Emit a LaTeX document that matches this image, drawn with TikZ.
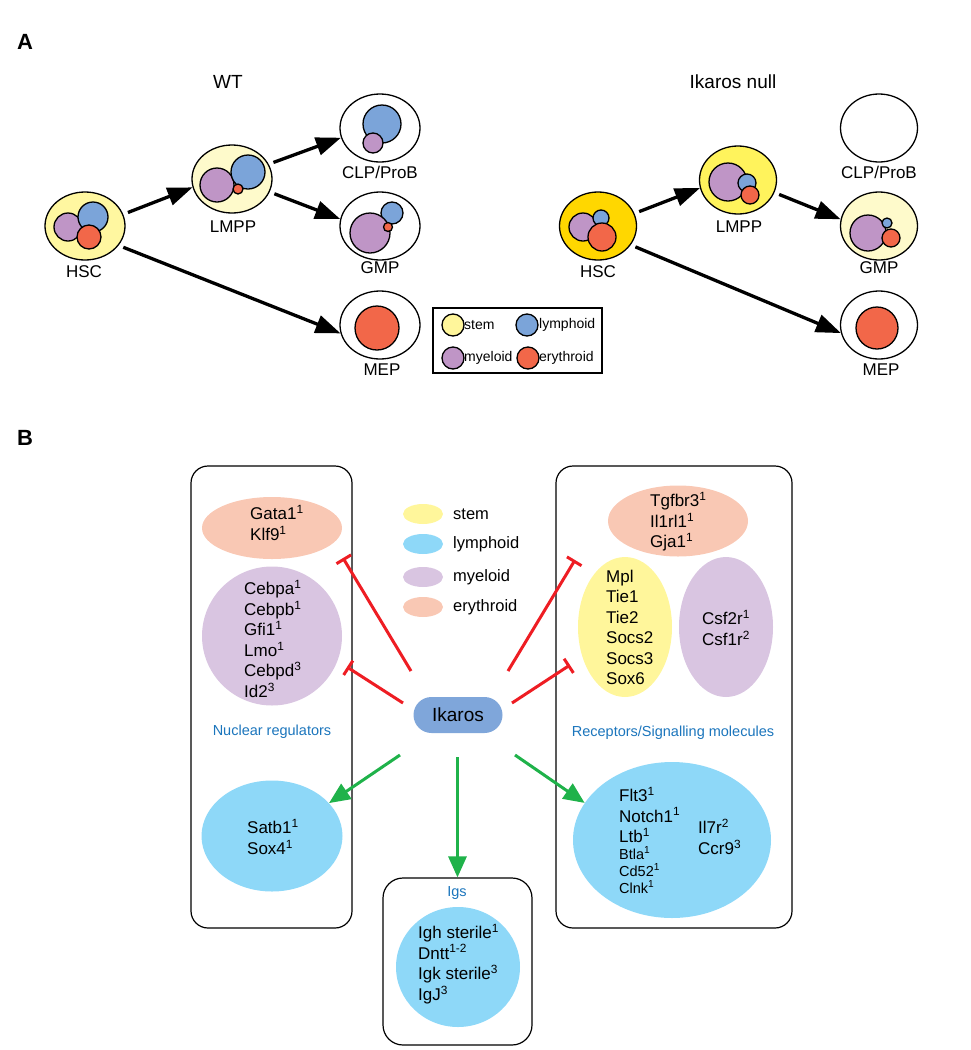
\documentclass[tikz,border=0pt]{standalone}
\usepackage{fontspec}
\setmainfont{Liberation Sans}
\usetikzlibrary{shapes.geometric,arrows.meta,calc}
\definecolor{cyel}{HTML}{FFF7A0}
\definecolor{cpale}{HTML}{FEFACB}
\definecolor{cgold}{HTML}{FFD700}
\definecolor{cyeltwo}{HTML}{FFF35C}
\definecolor{cblue}{HTML}{7BA4D9}
\definecolor{cpurp}{HTML}{BF95C6}
\definecolor{cred}{HTML}{F26749}
\definecolor{lstem}{HTML}{FFF69B}
\definecolor{llym}{HTML}{8ED8F8}
\definecolor{lmye}{HTML}{D9C5E1}
\definecolor{lery}{HTML}{F9C8B4}
\definecolor{ikfill}{HTML}{7FA6DA}
\definecolor{tred}{HTML}{EE1D23}
\definecolor{tgreen}{HTML}{1FB24A}
\definecolor{tblue}{HTML}{1B75BC}
\newcommand\gsup[1]{\textsuperscript{#1}}
\begin{document}
\begin{tikzpicture}[x=1pt,y=-1pt,
  cell/.style={ellipse,draw,line width=1.3pt,minimum width=80pt,minimum height=68pt,inner sep=0pt},
  sub/.style={draw,line width=1.3pt},
  lab/.style={font=\fontsize{17}{20}\selectfont,inner sep=0pt},
  ttl/.style={font=\fontsize{19}{22}\selectfont,inner sep=0pt},
  panel/.style={font=\fontsize{22}{24}\selectfont\bfseries,inner sep=0pt},
  flow/.style={line width=3.3pt,-{Triangle[length=25pt,width=18pt]},shorten <=5pt},
  legA/.style={font=\fontsize{14}{16}\selectfont,inner sep=0pt,anchor=west},
  blob/.style={ellipse,inner sep=0pt},
  genes/.style={font=\fontsize{17}{20.5}\selectfont,align=left,inner sep=0pt,anchor=west},
  smallgenes/.style={font=\fontsize{14.5}{17}\selectfont,align=left,inner sep=0pt,anchor=west},
  grp/.style={draw,line width=1.2pt,rounded corners=17pt},
  cat/.style={font=\fontsize{14.5}{16}\selectfont,text=tblue,inner sep=0pt},
  legB/.style={font=\fontsize{16.5}{18}\selectfont,inner sep=0pt,anchor=west},
  inhib/.style={draw=tred,line width=3pt,-{Bar[width=17pt,line width=3pt]}},
  act/.style={draw=tgreen,line width=3pt,-{Triangle[length=21pt,width=18pt]},color=tgreen}
]
\useasboundingbox (0,0) rectangle (970,1050);

% ---------------- Panel A ----------------
\node[panel] (pA) at (25,42) {A};
\node[ttl] (wt) at (228,82) {WT};
\node[ttl] (null) at (733,82) {Ikaros null};

% WT cells
\node[cell,fill=cyel] (hsc) at (85,226) {};
\draw[sub,fill=cpurp] (68,227) circle[radius=14pt];
\draw[sub,fill=cblue] (93,217) circle[radius=15pt];
\draw[sub,fill=cred] (89,237) circle[radius=12pt];
\node[lab] (hscl) at (84,272) {HSC};

\node[cell,fill=cpale] (lmpp) at (232,179) {};
\draw[sub,fill=cpurp] (217,185) circle[radius=17pt];
\draw[sub,fill=cblue] (248,172) circle[radius=17pt];
\draw[sub,fill=cred] (238,189) circle[radius=5pt];
\node[lab] (lmppl) at (233,227) {LMPP};

\node[cell,fill=white] (clp) at (380,128) {};
\draw[sub,fill=cblue] (382,124) circle[radius=19pt];
\draw[sub,fill=cpurp] (373,143) circle[radius=10pt];
\node[lab] (clpl) at (380,172) {CLP/ProB};

\node[cell,fill=white] (gmp) at (380,226) {};
\draw[sub,fill=cblue] (392,213) circle[radius=11pt];
\draw[sub,fill=cpurp] (370,233) circle[radius=20pt];
\draw[sub,fill=cred] (388,227) circle[radius=4.5pt];
\node[lab] (gmpl) at (380,268) {GMP};

\node[cell,fill=white] (mep) at (380,325) {};
\draw[sub,fill=cred] (377,328) circle[radius=22pt];
\node[lab] (mepl) at (382,370) {MEP};

\draw[flow] (hsc.17) -- (lmpp.192);
\draw[flow] (lmpp.22) -- (clp.194);
\draw[flow] (lmpp.-19) -- (gmp.170);
\draw[flow] (hsc.-30) -- (mep.192);

% legend A
\node[draw,line width=1.5pt,minimum width=169pt,minimum height=65pt,inner sep=0pt] (legbox) at (517.5,340.5) {};
\draw[sub,fill=lstem] (453,325) circle[radius=11pt];
\node[legA] (lst) at (464,325) {stem};
\draw[sub,fill=cblue] (527,325) circle[radius=11pt];
\node[legA] (lly) at (539,325) {lymphoid};
\draw[sub,fill=cpurp] (453,358) circle[radius=11pt];
\node[legA] (lmy) at (464,358) {myeloid};
\draw[sub,fill=cred] (528,358) circle[radius=11pt];
\node[legA] (ler) at (539,358) {erythroid};

% Ikaros null cells
\node[cell,fill=cgold,minimum width=77pt] (nhsc) at (598,226) {};
\draw[sub,fill=cpurp] (583,227) circle[radius=14pt];
\draw[sub,fill=cblue] (601,218) circle[radius=8pt];
\draw[sub,fill=cred] (602,237) circle[radius=14pt];
\node[lab] (nhscl) at (598,272) {HSC};

\node[cell,fill=cyeltwo,minimum width=77pt] (nlmpp) at (738,180) {};
\draw[sub,fill=cpurp] (728,182) circle[radius=19pt];
\draw[sub,fill=cblue] (747,183) circle[radius=9pt];
\draw[sub,fill=cred] (750,195) circle[radius=9pt];
\node[lab] (nlmppl) at (739,227) {LMPP};

\node[cell,fill=white,minimum width=77pt] (nclp) at (879,128) {};
\node[lab] (nclpl) at (879,172) {CLP/ProB};

\node[cell,fill=cpale,minimum width=77pt] (ngmp) at (879,226) {};
\draw[sub,fill=cpurp] (868,233) circle[radius=18pt];
\draw[sub,fill=cblue] (887,223) circle[radius=5pt];
\draw[sub,fill=cred] (891,238) circle[radius=9pt];
\node[lab] (ngmpl) at (879,268) {GMP};

\node[cell,fill=white,minimum width=77pt] (nmep) at (879,325) {};
\draw[sub,fill=cred] (877,328) circle[radius=21pt];
\node[lab] (nmepl) at (881,370) {MEP};

\draw[flow] (nhsc.19) -- (nlmpp.192);
\draw[flow] (nlmpp.-19) -- (ngmp.170);
\draw[flow] (nhsc.-30) -- (nmep.192);

% ---------------- Panel B ----------------
\node[panel] (pB) at (25,438) {B};

\node[grp,minimum width=161pt,minimum height=462pt] (nucbox) at (271.5,697) {};
\node[grp,minimum width=236pt,minimum height=462pt] (recbox) at (674,697) {};
\node[grp,rounded corners=20pt,minimum width=149pt,minimum height=167pt] (igsbox) at (457.5,961.5) {};

% nuclear regulators
\node[blob,fill=lery,minimum width=140pt,minimum height=62pt] (gata) at (272,528) {};
\node[genes] (gatat) at (250,523) {Gata1\gsup{1}\\Klf9\gsup{1}};
\node[blob,fill=lmye,minimum width=140pt,minimum height=139pt] (cebp) at (272,636) {};
\node[genes] (cebpt) at (244,639) {Cebpa\gsup{1}\\Cebpb\gsup{1}\\Gfi1\gsup{1}\\Lmo\gsup{1}\\Cebpd\gsup{3}\\Id2\gsup{3}};
\node[cat] (nuc) at (272,732) {Nuclear regulators};
\node[blob,fill=llym,minimum width=141pt,minimum height=111pt] (satb1) at (272,836) {};
\node[genes] (satbt) at (247,837) {Satb1\gsup{1}\\Sox4\gsup{1}};

% receptors
\node[blob,fill=lery,minimum width=140pt,minimum height=71pt] (tgf) at (678,521) {};
\node[genes] (tgft) at (650,522) {Tgfbr3\gsup{1}\\Il1rl1\gsup{1}\\Gja1\gsup{1}};
\node[blob,fill=lstem,minimum width=94pt,minimum height=140pt] (mpl) at (625,627) {};
\node[genes] (mplt) at (606,627.5) {Mpl\\Tie1\\Tie2\\Socs2\\Socs3\\Sox6};
\node[blob,fill=lmye,minimum width=94pt,minimum height=140pt] (csf) at (726,627) {};
\node[genes] (csft) at (702,628) {Csf2r\gsup{1}\\Csf1r\gsup{2}};
\node[cat] (rec) at (673,733) {Receptors/Signalling molecules};
\node[blob,fill=llym,minimum width=198pt,minimum height=156pt] (lymph) at (672,840) {};
\node[genes] (flt) at (619,815) {Flt3\gsup{1}\\Notch1\gsup{1}\\Ltb\gsup{1}};
\node[smallgenes] (btla) at (619,870) {Btla\gsup{1}\\Cd52\gsup{1}\\Clnk\gsup{1}};
\node[genes] (il7) at (698,837) {Il7r\gsup{2}\\Ccr9\gsup{3}};

% Igs
\node[cat] (igs) at (457,893) {Igs};
\node[blob,fill=llym,minimum width=124pt,minimum height=120pt] (igc) at (458,967) {};
\node[genes,font=\fontsize{17}{20.7}\selectfont] (igt) at (418,964) {Igh sterile\gsup{1}\\Dntt\gsup{1-2}\\Igk sterile\gsup{3}\\IgJ\gsup{3}};

% legend B
\node[blob,fill=lstem,minimum width=40pt,minimum height=20pt] (kst) at (423,514) {};
\node[legB] (kstt) at (453,514) {stem};
\node[blob,fill=llym,minimum width=40pt,minimum height=20pt] (kly) at (423,544) {};
\node[legB] (klyt) at (453,544) {lymphoid};
\node[blob,fill=lmye,minimum width=40pt,minimum height=20pt] (kmy) at (423,577) {};
\node[legB] (kmyt) at (453,577) {myeloid};
\node[blob,fill=lery,minimum width=40pt,minimum height=20pt] (ker) at (423,607) {};
\node[legB] (kert) at (453,607) {erythroid};

% Ikaros
\node[fill=ikfill,rounded corners=18pt,minimum width=89pt,minimum height=36pt,inner sep=0pt,font=\fontsize{19}{22}\selectfont] (ikaros) at (458,715) {Ikaros};

% inhibition lines
\coordinate (r1s) at (411,671);
\coordinate (r1e) at (343,558);
\coordinate (r2s) at (403,703);
\coordinate (r2e) at (347,667);
\coordinate (r3s) at (508,671);
\coordinate (r3e) at (575,560);
\coordinate (r4s) at (512,703);
\coordinate (r4e) at (570,665);
\draw[inhib] (r1s) -- (r1e);
\draw[inhib] (r2s) -- (r2e);
\draw[inhib] (r3s) -- (r3e);
\draw[inhib] (r4s) -- (r4e);

% activation arrows
\coordinate (g1s) at (400,755);
\coordinate (g2s) at (457.5,757);
\coordinate (g3s) at (515,755);
\draw[act] (g1s) -- (satb1.30);
\draw[act] (g2s) -- (igsbox.north);
\draw[act] (g3s) -- (lymph.157);
\end{tikzpicture}
\end{document}
